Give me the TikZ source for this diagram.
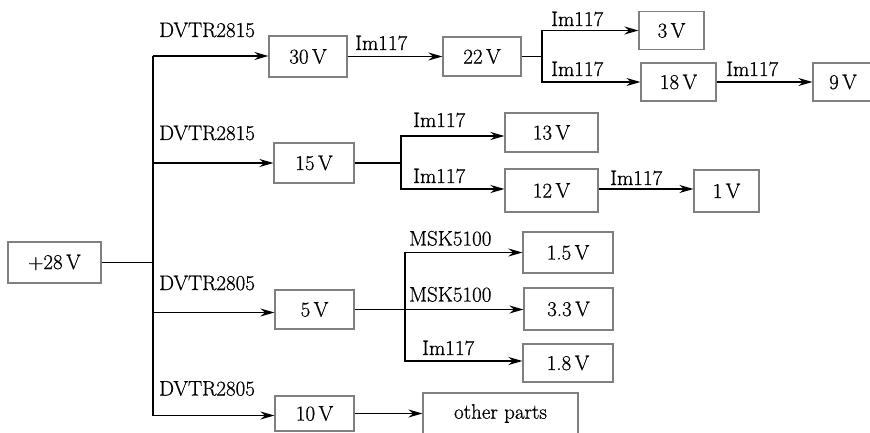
\documentclass[tikz,border=0pt]{standalone}
\usepackage{fontspec}
\newfontfamily\diagfont{Latin Modern Roman}[FakeBold=0.7]
\usetikzlibrary{arrows.meta}
\begin{document}
\begin{tikzpicture}[x=1pt,y=-1pt,
  box/.style={draw=black!50, line width=1.2pt, inner sep=0pt, font=\diagfont\fontsize{21}{24}\selectfont},
  lbl/.style={inner sep=0pt, anchor=base west, font=\diagfont\fontsize{21}{24}\selectfont},
  conn/.style={line width=1.6pt},
  arr/.style={conn, -{Stealth[length=14pt,width=8pt]}}]
\useasboundingbox (0,0) rectangle (870,433);

% boxes
\node[box, minimum width=93pt, minimum height=41pt] (p28) at (54.5,262.5) {+28\,V};
\node[box, minimum width=78pt, minimum height=41pt] (v30) at (308,56.5) {30\,V};
\node[box, minimum width=78pt, minimum height=39pt] (v22) at (482,56.5) {22\,V};
\node[box, minimum width=65pt, minimum height=38pt] (v3) at (671.5,30.5) {3\,V};
\node[box, minimum width=75pt, minimum height=38pt] (v18) at (678.5,82) {18\,V};
\node[box, minimum width=60pt, minimum height=38pt] (v9) at (843,82) {9\,V};
\node[box, minimum width=80pt, minimum height=40pt] (v15) at (314,163) {15\,V};
\node[box, minimum width=93pt, minimum height=39pt] (v13) at (551.5,132.5) {13\,V};
\node[box, minimum width=93pt, minimum height=43pt] (v12) at (551.5,190.5) {12\,V};
\node[box, minimum width=65pt, minimum height=42pt] (v1) at (726.5,191) {1\,V};
\node[box, minimum width=79pt, minimum height=39pt] (v5) at (314.5,309.5) {5\,V};
\node[box, minimum width=90pt, minimum height=41pt] (v1p5) at (568,252.5) {1.5\,V};
\node[box, minimum width=89pt, minimum height=42pt] (v3p3) at (568.5,309) {3.3\,V};
\node[box, minimum width=90pt, minimum height=38pt] (v1p8) at (568,363) {1.8\,V};
\node[box, minimum width=79pt, minimum height=35pt] (v10) at (314.5,413.5) {10\,V};
\node[box, minimum width=155pt, minimum height=41pt] (other) at (500.5,413.5) {other parts};

% trunk
\coordinate (t1) at (153,56);
\coordinate (t2) at (153,163);
\coordinate (t3) at (153,312.5);
\coordinate (t4) at (153,415.5);
\draw[conn] (t1) -- (t4);
\draw[conn] (p28.east) -- (p28.east -| t1);
\draw[arr] (t1) -- (t1 -| v30.west);
\draw[arr] (t2) -- (t2 -| v15.west);
\draw[arr] (t3) -- (t3 -| v5.west);
\draw[arr] (t4) -- (t4 -| v10.west);

% 30 V branch
\draw[arr] (v30.east) -- (v30.east -| v22.west);
\coordinate (j22) at (542,56.5);
\draw[conn] (v22.east) -- (j22);
\draw[arr] (j22) |- (v3.west);
\draw[arr] (j22) |- (v18.west);
\draw[arr] (v18.east) -- (v18.east -| v9.west);

% 15 V branch
\coordinate (j15) at (401,163);
\draw[conn] (v15.east) -- (j15);
\draw[arr] (j15) |- ([yshift=-3.5pt]v13.west);
\draw[arr] (j15) |- ([yshift=1.5pt]v12.west);
\draw[arr] ([yshift=1.5pt]v12.east) -- ([yshift=1.5pt]v12.east -| v1.west);

% 5 V branch
\coordinate (j5) at (405,309.5);
\draw[conn] (v5.east) -- (j5);
\draw[arr] (j5) |- (v1p5.west);
\draw[arr] (j5) -- (j5 -| v3p3.west);
\draw[arr] (j5) |- ([yshift=2pt]v1p8.west);

% 10 V
\draw[arr] (v10.east) -- (v10.east -| other.west);

% labels
\node[lbl] (l1) at (159,37) {DVTR2815};
\node[lbl] (l2) at (159,140) {DVTR2815};
\node[lbl] (l3) at (159,290) {DVTR2805};
\node[lbl] (l4) at (159,395.5) {DVTR2805};
\node[lbl] (l5) at (355,50) {Im117};
\node[lbl] (l6) at (551,26) {Im117};
\node[lbl] (l7) at (551,76) {Im117};
\node[lbl] (l8) at (726,76) {Im117};
\node[lbl] (l9) at (413,127) {Im117};
\node[lbl] (l10) at (413,183) {Im117};
\node[lbl] (l11) at (610,185) {Im117};
\node[lbl] (l12) at (409,245.5) {MSK5100};
\node[lbl] (l13) at (409,301.5) {MSK5100};
\node[lbl] (l14) at (422,355) {Im117};
\end{tikzpicture}
\end{document}
